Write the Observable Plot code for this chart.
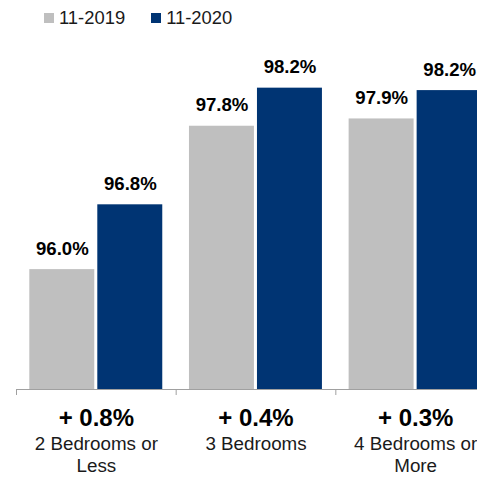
<!DOCTYPE html>
<html>
<head>
<meta charset="utf-8">
<script src="https://cdn.jsdelivr.net/npm/d3@7"></script>
<script src="https://cdn.jsdelivr.net/npm/@observablehq/plot@0.6"></script>
<style>
  html, body { margin: 0; padding: 0; background: #fff; }
  body { width: 477px; height: 477px; overflow: hidden; font-family: "Liberation Sans", Arial, Helvetica, sans-serif; }
  #legend { height: 36px; padding-left: 44px; display: flex; align-items: center; font-size: 18.4px; color: #1a1a1a; }
  .item { display: flex; align-items: center; margin-right: 26px; }
  .sw { width: 10px; height: 10px; margin-right: 5px; }
  #chart { width: 477px; height: 441px; overflow: hidden; }
  #chart svg { max-width: none !important; display: block; }
</style>
</head>
<body>
<div id="legend"></div>
<div id="chart"></div>
<script>
const categories = ["2 Bedrooms or\nLess", "3 Bedrooms", "4 Bedrooms or\nMore"];
const seriesNames = ["11-2019", "11-2020"];
const values2019 = [96.0, 97.77, 97.86];
const values2020 = [96.8, 98.24, 98.21];
const changes = [0.8, 0.4, 0.3];
const colors = ["#bfbfbf", "#003473"];
const yMin = 94.52;
const yMax = 98.6;

const rows2019 = categories.map((c, i) => ({i, c, v: values2019[i]}));
const rows2020 = categories.map((c, i) => ({i, c, v: values2020[i]}));
const rowsCat = categories.map((c, i) => ({i, c, d: changes[i]}));

const legend = document.getElementById("legend");
seriesNames.forEach((s, k) => {
  const it = document.createElement("div");
  it.className = "item";
  it.innerHTML = `<span class="sw" style="background:${colors[k]}"></span><span>${s}</span>`;
  legend.appendChild(it);
});

const font = "Liberation Sans, Arial, Helvetica, sans-serif";
const mid = d => d.i + 0.5;

const chart = Plot.plot({
  width: 495,
  height: 441,
  marginLeft: 16,
  marginRight: 0,
  marginTop: 22.5,
  marginBottom: 88,
  style: {fontFamily: font, background: "#fff", maxWidth: "none"},
  x: {type: "linear", domain: [0, categories.length], axis: null, label: null},
  y: {domain: [yMin, yMax], axis: null, label: null},
  marks: [
    Plot.rectY(rows2019, {x1: "i", x2: d => d.i + 1, y1: yMin, y2: "v", fill: colors[0], insetLeft: 13.3, insetRight: 81.4}),
    Plot.rectY(rows2020, {x1: "i", x2: d => d.i + 1, y1: yMin, y2: "v", fill: colors[1], insetLeft: 81.3, insetRight: 13.4}),
    Plot.text(rows2019, {x: mid, y: "v", dx: -34, dy: -15, lineAnchor: "bottom", text: d => d.v.toFixed(1) + "%", fontSize: 18.6, fontWeight: "bold", fill: "#000"}),
    Plot.text(rows2020, {x: mid, y: "v", dx: 34, dy: -15, lineAnchor: "bottom", text: d => d.v.toFixed(1) + "%", fontSize: 18.6, fontWeight: "bold", fill: "#000"}),
    Plot.ruleY([yMin], {stroke: "#a0a0a0"}),
    Plot.axisX({ticks: [0, 1, 2], tickSize: 6, tickFormat: () => "", stroke: "#a0a0a0", label: null}),
    Plot.text(rowsCat, {x: mid, y: yMin, dy: 36, lineAnchor: "bottom", text: d => "+ " + d.d.toFixed(1) + "%", fontSize: 24, fontWeight: "bold", fill: "#000"}),
    Plot.text(rowsCat, {x: mid, y: yMin, dy: 45, lineAnchor: "top", lineHeight: 1.16, text: "c", fontSize: 18.8, fill: "#1a1a1a"})
  ]
});
document.getElementById("chart").appendChild(chart);
</script>
</body>
</html>
